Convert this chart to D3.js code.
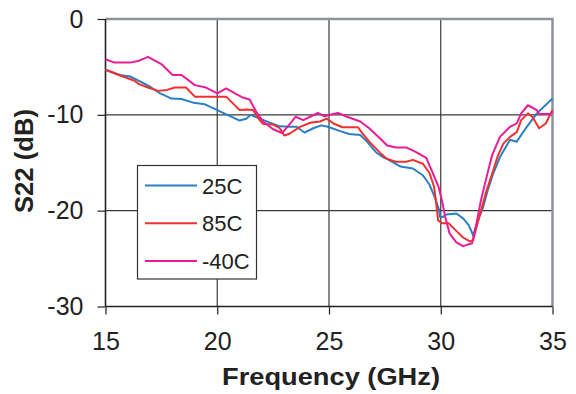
<html>
<head>
  <meta charset="utf-8" />
<style>
  html, body { margin: 0; padding: 0; background: #fff; }
  #chart { width: 576px; height: 394px; }
  text { font-family: "Liberation Sans", Arial, sans-serif; fill: #222; }
</style>
</head>
<body>
<div id="chart"></div>
<script src="https://cdnjs.cloudflare.com/ajax/libs/d3/7.8.5/d3.min.js"></script>
<script>

// tick values
var xTicks = [15, 20, 25, 30, 35];
var yTicks = [0, -10, -20, -30];

// 25C
var f25 = [15, 15.65, 16.1, 16.5, 17.0, 17.45, 17.95, 18.4, 18.95, 19.45, 20.0, 20.55, 21.0, 21.3, 21.5, 21.9, 22.5, 22.8, 23.25, 23.55, 23.9, 24.3, 24.65, 24.95, 25.5, 25.9, 26.4, 26.7, 27.1, 27.4, 27.6, 28.2, 28.75, 29.2, 29.5, 29.75, 29.93, 29.97, 30.1, 30.25, 30.7, 31.0, 31.25, 31.4, 31.45, 31.67, 31.9, 32.1, 32.35, 32.65, 33.1, 33.4, 33.85, 34.3, 35.0];
var s25 = [-5.3, -5.85, -6.0, -6.45, -7.07, -7.77, -8.3, -8.35, -8.75, -8.9, -9.5, -10.1, -10.6, -10.4, -10.0, -10.4, -10.95, -11.2, -11.25, -11.25, -11.85, -11.4, -11.1, -11.25, -11.7, -12.0, -12.1, -12.8, -13.9, -14.4, -14.6, -15.4, -15.6, -16.3, -17.3, -18.7, -19.95, -20.65, -20.65, -20.4, -20.3, -20.8, -21.5, -22.3, -22.6, -21.0, -19.6, -17.9, -16.1, -14.4, -12.6, -12.8, -11.25, -9.85, -8.3];

// 85C
var f85 = [15, 15.65, 16.3, 16.5, 16.9, 17.35, 17.75, 18.1, 18.6, 19.0, 19.5, 20.4, 20.7, 21.0, 21.3, 21.6, 21.9, 22.05, 22.5, 22.8, 23.0, 23.25, 23.7, 24.2, 24.6, 24.9, 25.2, 25.6, 26.3, 26.45, 26.8, 27.3, 27.6, 28.0, 28.45, 28.75, 29.2, 29.5, 29.7, 29.78, 29.84, 29.88, 30.05, 30.35, 30.65, 31.0, 31.3, 31.45, 31.6, 31.8, 32.05, 32.35, 32.55, 32.8, 33.1, 33.4, 33.6, 33.9, 34.1, 34.4, 34.7, 35.0];
var s85 = [-5.3, -5.9, -6.45, -6.8, -7.15, -7.5, -7.4, -7.15, -7.15, -8.1, -8.1, -8.1, -8.8, -9.5, -9.45, -9.5, -10.55, -10.95, -11.0, -11.4, -12.15, -11.95, -11.25, -10.8, -10.7, -10.4, -10.9, -11.3, -11.3, -11.8, -12.8, -14.0, -14.6, -14.9, -14.9, -14.7, -15.1, -16.1, -17.5, -18.9, -20.1, -21.0, -21.3, -21.3, -22.0, -22.8, -23.2, -23.1, -21.7, -20.0, -17.9, -15.8, -14.3, -13.0, -12.3, -11.8, -10.55, -9.85, -10.2, -11.4, -10.9, -9.5];

// -40C
var fm40 = [15, 15.4, 16.1, 16.5, 16.9, 17.5, 18.0, 18.4, 19.0, 19.5, 20.0, 20.4, 20.85, 21.15, 21.45, 21.75, 22.05, 22.5, 22.9, 23.2, 23.5, 23.85, 24.2, 24.5, 24.8, 25.05, 25.4, 25.8, 26.4, 26.8, 27.3, 27.6, 28.0, 28.45, 28.9, 29.35, 29.65, 29.9, 30.05, 30.2, 30.4, 30.7, 31.0, 31.4, 31.6, 31.8, 32.05, 32.3, 32.65, 33.1, 33.4, 33.6, 33.9, 34.3, 34.4, 34.9, 35.0];
var sm40 = [-4.2, -4.55, -4.55, -4.35, -3.95, -4.7, -5.85, -5.85, -6.9, -7.15, -7.75, -7.25, -7.85, -8.2, -8.4, -9.7, -10.7, -11.5, -11.9, -11.1, -10.2, -10.55, -10.15, -9.8, -10.15, -10.0, -9.8, -10.2, -10.7, -11.4, -12.5, -13.2, -13.4, -13.4, -13.9, -14.5, -16.1, -17.5, -18.9, -20.65, -22.4, -23.3, -23.7, -23.4, -21.3, -18.9, -16.5, -14.2, -12.3, -11.25, -10.9, -9.85, -9.0, -9.5, -9.9, -9.9, -9.7];

var seriesNames = ["25C", "85C", "-40C"];
var seriesColors = ["#2a7fc4", "#f0302e", "#ea1b96"];

var series = [
  d3.zip(f25, s25),
  d3.zip(f85, s85),
  d3.zip(fm40, sm40)
];

var width = 576, height = 394;
var margin = {left: 105.5, right: 23.5, top: 19, bottom: 87.5};
var plotW = width - margin.left - margin.right;
var plotH = height - margin.top - margin.bottom;

var svg = d3.select("#chart").append("svg")
  .attr("width", width).attr("height", height);

var x = d3.scaleLinear().domain([15, 35]).range([margin.left, margin.left + plotW]);
var y = d3.scaleLinear().domain([-30, 0]).range([margin.top + plotH, margin.top]);

// grid
var grid = svg.append("g").attr("stroke", "#3a3a3a").attr("stroke-width", 1.2);
grid.selectAll(".gx").data(xTicks.slice(1, -1)).enter().append("line")
  .attr("x1", d => x(d)).attr("x2", d => x(d))
  .attr("y1", y(0)).attr("y2", y(-30));
grid.selectAll(".gy").data(yTicks.slice(1, -1)).enter().append("line")
  .attr("x1", x(15)).attr("x2", x(35))
  .attr("y1", d => y(d)).attr("y2", d => y(d));

// grey frame top and right
svg.append("path")
  .attr("d", "M" + x(15) + "," + y(0) + "H" + x(35) + "V" + y(-30))
  .attr("fill", "none").attr("stroke", "#8d9298").attr("stroke-width", 2.5);

// axes (plain hyphen for negatives, like the original)
var xAxis = svg.append("g")
  .attr("transform", "translate(0," + y(-30) + ")")
  .call(d3.axisBottom(x).tickValues(xTicks).tickFormat(d => String(d)).tickSize(8).tickPadding(18));
var yAxis = svg.append("g")
  .attr("transform", "translate(" + x(15) + ",0)")
  .call(d3.axisLeft(y).tickValues(yTicks).tickFormat(d => String(d)).tickSize(8).tickPadding(14));

[xAxis, yAxis].forEach(function(a) {
  a.select(".domain").attr("stroke", "#222").attr("stroke-width", 1.6);
  a.selectAll(".tick line").attr("stroke", "#222").attr("stroke-width", 1.2);
  a.selectAll(".tick text")
    .style("font-family", '"Liberation Sans", Arial, sans-serif')
    .style("font-size", "25px").attr("fill", "#222");
});
xAxis.select(".domain").attr("d", "M" + x(15) + ",0H" + x(35));
yAxis.select(".domain").attr("d", "M0," + y(0) + "V" + y(-30));

// lines
var line = d3.line().x(d => x(d[0])).y(d => y(d[1]));
svg.append("g").selectAll("path").data(series).enter().append("path")
  .attr("d", line)
  .attr("fill", "none")
  .attr("stroke", (d, i) => seriesColors[i])
  .attr("stroke-width", 2)
  .attr("stroke-linejoin", "round");

// legend
var legend = svg.append("g");
legend.append("rect")
  .attr("x", 137.5).attr("y", 165.5).attr("width", 119).attr("height", 113.5)
  .attr("fill", "#fff").attr("stroke", "#333").attr("stroke-width", 1.2);
var items = legend.selectAll(".item").data(seriesNames).enter().append("g")
  .attr("transform", (d, i) => "translate(0," + (185.5 + i * 37.7) + ")");
items.append("line")
  .attr("x1", 145).attr("x2", 197).attr("y1", 0).attr("y2", 0)
  .attr("stroke", (d, i) => seriesColors[i]).attr("stroke-width", 2);
items.append("text")
  .attr("x", 202).attr("y", 8)
  .style("font-size", "22px")
  .text(d => d);

// axis titles
svg.append("text")
  .attr("x", 331).attr("y", 384.5)
  .attr("text-anchor", "middle")
  .attr("textLength", 218).attr("lengthAdjust", "spacingAndGlyphs")
  .style("font-size", "23px").style("font-weight", "bold")
  .text("Frequency (GHz)");

svg.append("text")
  .attr("transform", "translate(33,161) rotate(-90)")
  .attr("text-anchor", "middle")
  .attr("textLength", 104).attr("lengthAdjust", "spacingAndGlyphs")
  .style("font-size", "26px").style("font-weight", "bold")
  .text("S22 (dB)");

</script>
</body>
</html>
